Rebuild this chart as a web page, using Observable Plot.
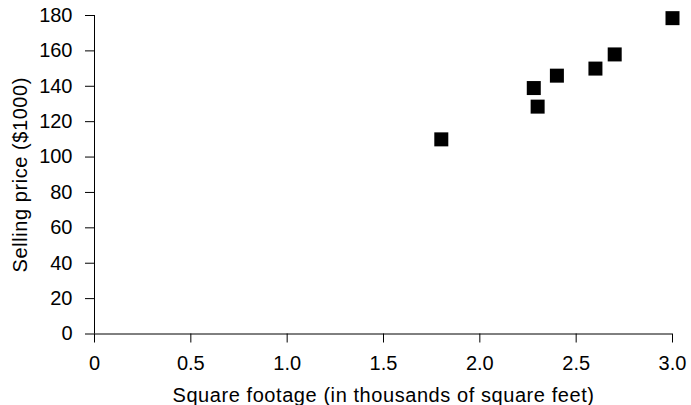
<!DOCTYPE html>
<html>
<head>
<meta charset="utf-8">
<script src="https://cdn.jsdelivr.net/npm/d3@7"></script>
<script src="https://cdn.jsdelivr.net/npm/@observablehq/plot@0.6"></script>
<style>
  html, body { margin: 0; padding: 0; background: #fff; }
  svg { display: block; }
  .axis-label text { letter-spacing: 0.57px; }
</style>
</head>
<body>
<div id="chart"></div>
<script>
const squareFootage = [1.8, 2.28, 2.3, 2.4, 2.6, 2.7, 3.0];
const sellingPrice = [110, 139, 128.5, 146, 150, 158, 178.5];
const xTicks = [0, 0.5, 1.0, 1.5, 2.0, 2.5, 3.0];
const xTickLabels = ["0", "0.5", "1.0", "1.5", "2.0", "2.5", "3.0"];
const yTicks = [0, 20, 40, 60, 80, 100, 120, 140, 160, 180];
const xLabel = "Square footage (in thousands of square feet)";
const yLabel = "Selling price ($1000)";

const data = squareFootage.map((x, i) => ({x, y: sellingPrice[i]}));

const chart = Plot.plot({
  width: 691,
  height: 405,
  marginLeft: 94,
  marginRight: 19,
  marginTop: 15,
  marginBottom: 71.5,
  style: {fontFamily: "'Liberation Sans', Arial, sans-serif", fontSize: "20px", color: "#000", background: "#fff"},
  x: {domain: [0, 3]},
  y: {domain: [0, 180]},
  marks: [
    Plot.axisX({ticks: xTicks, tickFormat: (d, i) => xTickLabels[i], tickSize: 9, tickPadding: 13, label: null, fontSize: 20, stroke: "#000", strokeOpacity: 1}),
    Plot.axisY({ticks: yTicks, tickSize: 9, tickPadding: 13, label: null, fontSize: 20, stroke: "#000", strokeOpacity: 1}),
    Plot.ruleY([0], {stroke: "#000", strokeWidth: 1}),
    Plot.ruleX([0], {stroke: "#000", strokeWidth: 1}),
    Plot.dot(data, {x: "x", y: "y", symbol: "square", r: 7.9, fill: "#000", stroke: "none"}),
    Plot.text([xLabel], {frameAnchor: "bottom", textAnchor: "middle", lineAnchor: "bottom", dy: 68, fontSize: 20, fill: "#000", className: "axis-label"}),
    Plot.text([yLabel], {frameAnchor: "left", textAnchor: "middle", lineAnchor: "bottom", rotate: -90, dx: -67.5, fontSize: 20, fill: "#000", className: "axis-label"})
  ]
});
document.getElementById("chart").appendChild(chart);
</script>
</body>
</html>
